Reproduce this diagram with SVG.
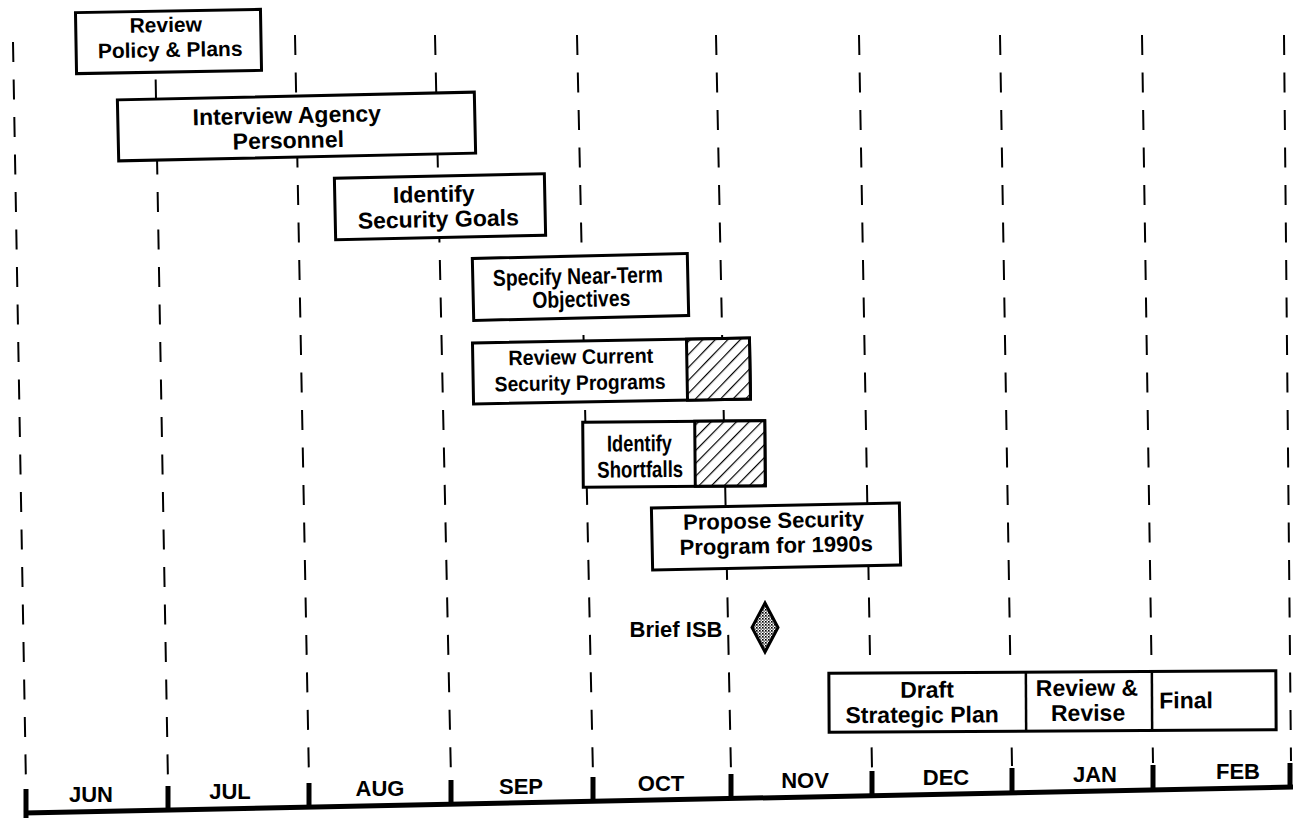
<svg xmlns="http://www.w3.org/2000/svg" width="1293" height="818" viewBox="0 0 1293 818">
<style>
.bx{fill:#fff;stroke:#000;stroke-width:3}
.t{font-family:"Liberation Sans",Arial,sans-serif;font-weight:bold;fill:#000;text-anchor:middle}
.s23{font-size:23px}.s22{font-size:22px}.s21{font-size:21px}
.m{font-family:"Liberation Sans",Arial,sans-serif;font-weight:bold;font-size:22px;fill:#000;text-anchor:middle}
.g{stroke:#000;stroke-width:2;stroke-dasharray:20 17.5;fill:none}
.tk{stroke:#000;stroke-width:5}
.dv{stroke:#000;stroke-width:2.5}
</style>
<defs>
<pattern id="hatch" patternUnits="userSpaceOnUse" width="9" height="9" patternTransform="rotate(45)">
<rect width="9" height="9" fill="#fff"/>
<line x1="0" y1="0" x2="0" y2="9" stroke="#000" stroke-width="2.4"/>
</pattern>
<pattern id="dots" patternUnits="userSpaceOnUse" width="3" height="3">
<rect width="3" height="3" fill="#fff"/>
<rect width="1.6" height="1.6" fill="#000"/>
<rect x="1.5" y="1.5" width="1.2" height="1.2" fill="#000"/>
</pattern>
</defs>
<rect width="1293" height="818" fill="#fff"/>
<g id="grid">
<line class="g" x1="13" y1="42" x2="26" y2="786"/>
<line class="g" x1="155" y1="42" x2="168" y2="783"/>
<line class="g" x1="295" y1="35" x2="309" y2="780"/>
<line class="g" x1="435" y1="35" x2="451" y2="778"/>
<line class="g" x1="577" y1="35" x2="593" y2="775"/>
<line class="g" x1="716" y1="35" x2="731" y2="772"/>
<line class="g" x1="859" y1="35" x2="872" y2="769"/>
<line class="g" x1="1000" y1="35" x2="1012" y2="766"/>
<line class="g" x1="1142" y1="35" x2="1153" y2="763"/>
<line class="g" x1="1284" y1="35" x2="1291" y2="761"/>
</g>
<g id="axis">
<line x1="24" y1="813" x2="1293" y2="787" stroke="#000" stroke-width="5"/>
<line class="tk" x1="26" y1="789" x2="26" y2="818"/>
<line class="tk" x1="168" y1="786" x2="168" y2="810"/>
<line class="tk" x1="309" y1="783" x2="309" y2="807"/>
<line class="tk" x1="451" y1="780" x2="451" y2="804"/>
<line class="tk" x1="593" y1="777" x2="593" y2="801"/>
<line class="tk" x1="731" y1="774" x2="731" y2="798"/>
<line class="tk" x1="872" y1="771" x2="872" y2="796"/>
<line class="tk" x1="1012" y1="768" x2="1012" y2="793"/>
<line class="tk" x1="1153" y1="765" x2="1153" y2="790"/>
<line class="tk" x1="1290" y1="763" x2="1290" y2="789"/>
<text class="m" x="91" y="802">JUN</text>
<text class="m" x="230" y="799">JUL</text>
<text class="m" x="380" y="796">AUG</text>
<text class="m" x="521" y="794">SEP</text>
<text class="m" x="661" y="791">OCT</text>
<text class="m" x="805" y="788">NOV</text>
<text class="m" x="946" y="785">DEC</text>
<text class="m" x="1095" y="782">JAN</text>
<text class="m" x="1238" y="779">FEB</text>
</g>
<g id="review-policy" transform="rotate(-1 168.5 41.5)">
<rect class="bx" x="76" y="11" width="185" height="61"/>
<text class="t s21" x="166" y="32">Review</text>
<text class="t s21" x="170" y="57">Policy &amp; Plans</text>
</g>
<g id="interview" transform="rotate(-1.25 296.5 126.5)">
<rect class="bx" x="118" y="96" width="357" height="61"/>
<text class="t s23" x="287" y="123">Interview Agency</text>
<text class="t s23" x="288" y="148">Personnel</text>
</g>
<g id="identify-goals" transform="rotate(-1.2 440 206.75)">
<rect class="bx" x="335" y="176" width="210" height="61.5"/>
<text class="t s23" x="434" y="202">Identify</text>
<text class="t s23" x="438" y="227">Security Goals</text>
</g>
<g id="specify" transform="rotate(-1.3 580.5 287)">
<rect class="bx" x="473" y="256" width="215" height="62"/>
<text class="t s23" x="578" y="284" textLength="170" lengthAdjust="spacingAndGlyphs">Specify Near-Term</text>
<text class="t s23" x="581" y="307" textLength="98" lengthAdjust="spacingAndGlyphs">Objectives</text>
</g>
<g id="review-current" transform="rotate(-1 611.5 371)">
<rect class="bx" x="473" y="340.5" width="277" height="61"/>
<rect x="687" y="340.5" width="63" height="61" fill="url(#hatch)" stroke="#000" stroke-width="3"/>
<text class="t s21" x="581" y="363.5" textLength="145" lengthAdjust="spacingAndGlyphs">Review Current</text>
<text class="t s21" x="580" y="389.5" textLength="171" lengthAdjust="spacingAndGlyphs">Security Programs</text>
</g>
<g id="shortfalls" transform="rotate(-0.5 674 454)">
<rect class="bx" x="583" y="421.5" width="182" height="65"/>
<rect x="695" y="421.5" width="70" height="65" fill="url(#hatch)" stroke="#000" stroke-width="3"/>
<text class="t s23" x="639.5" y="451" textLength="65" lengthAdjust="spacingAndGlyphs">Identify</text>
<text class="t s23" x="640" y="477" textLength="86" lengthAdjust="spacingAndGlyphs">Shortfalls</text>
</g>
<g id="propose" transform="rotate(-1.15 776 536.5)">
<rect class="bx" x="652" y="505.5" width="248" height="62"/>
<text class="t s22" x="774" y="528">Propose Security</text>
<text class="t s22" x="776" y="553">Program for 1990s</text>
</g>
<g id="brief-isb">
<text class="t s22" x="676" y="637">Brief ISB</text>
<polygon points="765,603 778,627.5 765,652 752,627.5" fill="url(#dots)" stroke="#000" stroke-width="3" stroke-linejoin="miter"/>
</g>
<g id="draft-plan" transform="rotate(-0.3 1052.5 701.5)">
<rect class="bx" x="829" y="672" width="447" height="59"/>
<line class="dv" x1="1026" y1="672" x2="1026" y2="731"/>
<line class="dv" x1="1152" y1="672" x2="1152" y2="731"/>
<text class="t s23" x="927" y="697">Draft</text>
<text class="t s23" x="922" y="722">Strategic Plan</text>
<text class="t s23" x="1087" y="696">Review &amp;</text>
<text class="t s23" x="1088" y="721">Revise</text>
<text class="t s23" x="1186" y="709">Final</text>
</g>
</svg>
